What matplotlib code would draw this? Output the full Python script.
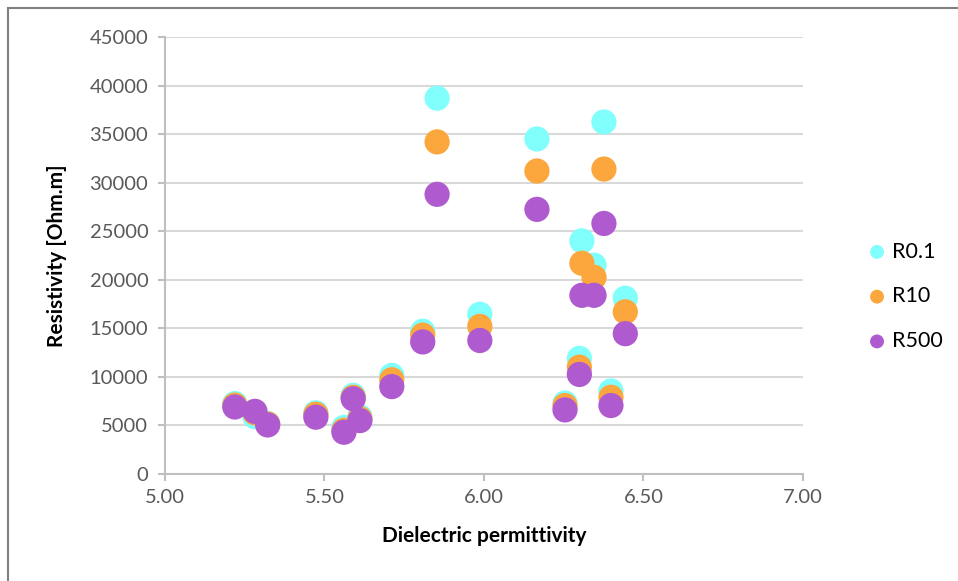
import matplotlib.pyplot as plt
from matplotlib.patches import Rectangle

# --- dados ---
permittivity = [5.219, 5.282, 5.322, 5.473, 5.561, 5.590, 5.611, 5.711, 5.808, 5.853,
                5.987, 6.166, 6.254, 6.299, 6.307, 6.345, 6.376, 6.398, 6.443]
r01 = [7250, 5900, 5200, 6300, 4800, 8100, 5900, 10150, 14700, 38700,
       16450, 34500, 7300, 11900, 24000, 21500, 36250, 8550, 18100]
r10 = [7100, 6300, 5150, 6150, 4500, 7900, 5700, 9700, 14300, 34200,
       15200, 31200, 7050, 11000, 21700, 20250, 31400, 7900, 16700]
r500 = [6900, 6450, 5050, 5850, 4300, 7750, 5500, 9000, 13600, 28800,
        13750, 27250, 6600, 10250, 18400, 18400, 25800, 7050, 14450]

series_names = ["R0.1", "R10", "R500"]
series_colors = ["#80FFFC", "#FBA73D", "#AF5BCF"]

plt.rcParams['font.family'] = ['Lato', 'DejaVu Sans']

fig = plt.figure(figsize=(9.58, 5.81), dpi=100)
ax = fig.add_axes([0.1722, 0.1842, 0.6660, 0.7521])

for vals, name, col in zip([r01, r10, r500], series_names, series_colors):
    ax.scatter(permittivity, vals, s=330, color=col, label=name, edgecolors='none', zorder=3)

ax.set_xlim(5.0, 7.0)
ax.set_ylim(0, 45000)
ax.set_xticks([5.0, 5.5, 6.0, 6.5, 7.0])
ax.set_xticklabels(["5.00", "5.50", "6.00", "6.50", "7.00"])
ax.set_yticks(range(0, 45001, 5000))

ax.grid(axis='y', color='#D9D9D9', linewidth=1.5, zorder=0)
ax.grid(axis='x', visible=False)
for side in ['top', 'right']:
    ax.spines[side].set_visible(False)
for side in ['left', 'bottom']:
    ax.spines[side].set_color('#BFBFBF')
    ax.spines[side].set_linewidth(1.5)

ax.tick_params(axis='both', colors='#BFBFBF', labelcolor='#595959', labelsize=14.5,
               length=5, width=1.5)
ax.tick_params(axis='y', pad=7)
ax.tick_params(axis='x', pad=6)

ax.set_xlabel("Dielectric permittivity", fontsize=15, weight='bold', labelpad=14)
ax.set_ylabel("Resistivity [Ohm.m]", fontsize=15, weight='bold', labelpad=16)

fig.legend(loc='center left', bbox_to_anchor=(0.893, 0.49), frameon=False,
           fontsize=15.5, markerscale=0.55, handlelength=1.0, handletextpad=0.2,
           labelspacing=1.15, borderpad=0)

# borda externa do grafico
fig.patches.append(Rectangle((8 / 958, -0.01), 1.0, 1.01 - 8 / 581, transform=fig.transFigure,
                             fill=False, edgecolor='#808080', linewidth=1.5))

plt.savefig("out.png", dpi=100)
plt.close()
